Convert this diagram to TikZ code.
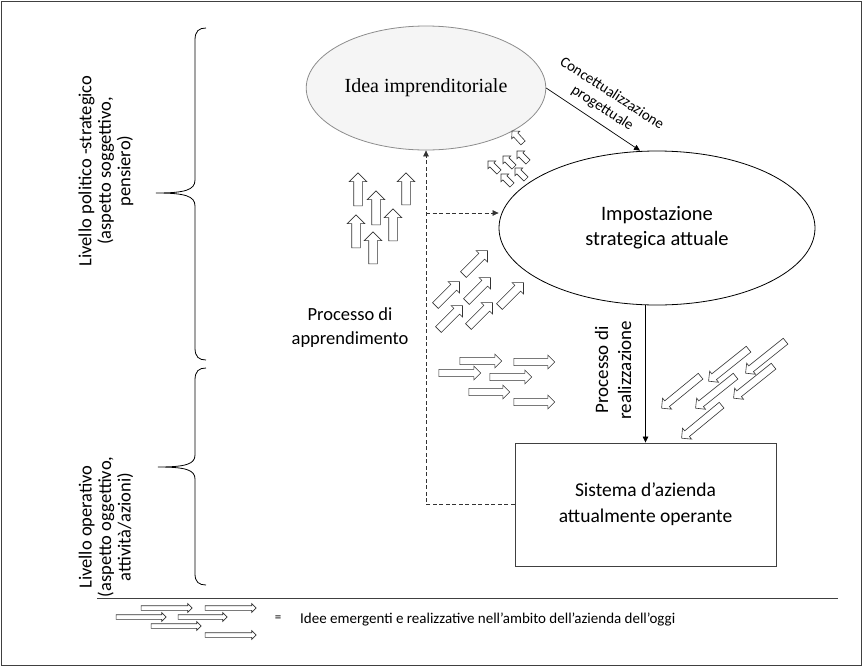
\documentclass[tikz,border=0pt]{standalone}
\usepackage{fontspec}
\setmainfont{Carlito}
\newfontfamily\serifidea{Liberation Serif}
\usetikzlibrary{shapes.geometric,shapes.arrows,arrows.meta,calc}

% block arrow from tail to tip: name, style, tail, tip
\newcommand\blockarrow[4]{%
  \path let \p1=($(#4)-(#3)$) in
    node[#2, rotate={atan2(\y1,\x1)}, minimum height={veclen(\x1,\y1)}]
      (#1) at ($(#3)!0.5!(#4)$) {};}

\tikzset{
  frame/.style={draw=black!75, line width=0.9pt},
  conn/.style={draw=black, line width=0.7pt, -{Triangle[length=6pt,width=5.5pt]}},
  dashconn/.style={draw=black!80, line width=0.7pt, dash pattern=on 4pt off 2.5pt,
    -{Triangle[length=6pt,width=5.5pt]}},
  bracestroke/.style={draw=black, line width=0.8pt},
  blk/.style 2 args={single arrow, draw=black!80, fill=white, line width=0.6pt,
    inner xsep=0pt, inner ysep=#1, single arrow head extend=#2, minimum width=0pt},
  uparr/.style={blk={4pt}{4.5pt}},
  nearr/.style={blk={3.8pt}{4pt}},
  rarr/.style={blk={3.3pt}{3.4pt}},
  swarr/.style={blk={3.4pt}{3.4pt}},
  tarr/.style={blk={2.6pt}{2.6pt}},
  legarr/.style={blk={2pt}{2.1pt}},
  sidelabel/.style={rotate=90, align=center, font=\fontsize{18.5}{19.5}\selectfont},
  bigtext/.style={align=center, font=\fontsize{20.5}{25}\selectfont},
}

\begin{document}
\begin{tikzpicture}[x=1pt,y=-1pt]
\useasboundingbox (0,0) rectangle (863,667);
\draw[frame] (1.5,1.5) rectangle (861.5,665.5);

% main elements
\node[ellipse, draw=black!45, fill=black!4, line width=0.8pt,
  minimum width=222pt, minimum height=124pt,
  font=\serifidea\fontsize{20}{24}\selectfont] (idea) at (426,88) {Idea imprenditoriale};
\node[ellipse, draw=black, line width=0.8pt, minimum width=316pt, minimum height=154pt,
  bigtext] (impost) at (657,228) {Impostazione\\strategica attuale};
\node[rectangle, draw=black!75, line width=0.9pt, minimum width=261pt, minimum height=123pt,
  bigtext, font=\fontsize{19.5}{26}\selectfont] (sist) at (645.5,504.5) {Sistema d’azienda\\attualmente operante};

% connectors
\draw[conn] (idea.east) -- ([xshift=-17pt]impost.north);
\node[rotate=-33, align=center, font=\fontsize{15}{17.5}\selectfont] (conc) at (607,101)
  {Concettualizzazione\\progettuale};
\draw[conn] (sist.north |- impost.south) -- (sist.north);
\node[rotate=90, bigtext, font=\fontsize{19}{23}\selectfont] (real) at (613,370)
  {Processo di\\realizzazione};

\coordinate (lc) at (426,504.5);
\coordinate (br) at (426,213);
\draw[dashconn] (sist.west) -- (lc) -- (idea.south);
\draw[dashconn] (br) -- (br -| impost.west);
\node[bigtext, font=\fontsize{18.5}{24}\selectfont] (appr) at (350,328) {Processo di\\apprendimento};

% level braces and labels
\draw[bracestroke] (206,28) .. controls (199,28) and (195,31) .. (195,40) -- (195,180)
  .. controls (195,190) and (185,193) .. (156,193)
  .. controls (185,193) and (195,196) .. (195,206) -- (195,348)
  .. controls (195,357) and (199,360) .. (206,360);
\draw[bracestroke] (206,368) .. controls (199,368) and (195,371) .. (195,380) -- (195,455)
  .. controls (195,464) and (186,467) .. (158,467)
  .. controls (186,467) and (195,470) .. (195,479) -- (195,574)
  .. controls (195,582) and (199,585) .. (206,585);
\node[sidelabel] (polit) at (106,171) {Livello politico -strategico\\(aspetto soggettivo,\\pensiero)};
\node[sidelabel] (oper) at (106,527) {Livello operativo\\(aspetto oggettivo,\\attività/azioni)};

% emerging ideas: upward group
\blockarrow{u1}{uparr}{358,208}{358,175}
\blockarrow{u2}{uparr}{406,207}{406,175}
\blockarrow{u3}{uparr}{376,227}{376,193}
\blockarrow{u4}{uparr}{393,243}{393,211}
\blockarrow{u5}{uparr}{356,250}{356,217}
\blockarrow{u6}{uparr}{373,266}{373,234}

% diagonal group
\blockarrow{d1}{nearr}{462,276}{486,252}
\blockarrow{d2}{nearr}{434,307}{458,283}
\blockarrow{d3}{nearr}{465,303}{489,279}
\blockarrow{d4}{nearr}{498,308}{522,284}
\blockarrow{d5}{nearr}{437,331}{461,307}
\blockarrow{d6}{nearr}{467,328}{491,304}

% horizontal group
\blockarrow{h1}{rarr}{458,361}{500,361}
\blockarrow{h2}{rarr}{512,362}{553,362}
\blockarrow{h3}{rarr}{437,373}{479,373}
\blockarrow{h4}{rarr}{488,377}{530,377}
\blockarrow{h5}{rarr}{467,392}{508,392}
\blockarrow{h6}{rarr}{512,402}{553,402}

% downward-left group
\blockarrow{s1}{swarr}{787,340}{747,372}
\blockarrow{s2}{swarr}{750,348}{710,380}
\blockarrow{s3}{swarr}{702,375}{663,407}
\blockarrow{s4}{swarr}{737,375}{697,407}
\blockarrow{s5}{swarr}{775,365}{735,397}
\blockarrow{s6}{swarr}{723,404}{683,437}

% small group near the idea
\blockarrow{t1}{tarr}{524,144}{513,132}
\blockarrow{t2}{tarr}{500,173}{489,162}
\blockarrow{t3}{tarr}{515,168}{504,157}
\blockarrow{t4}{tarr}{529,163}{518,152}
\blockarrow{t5}{tarr}{513,186}{502,175}
\blockarrow{t6}{tarr}{527,180}{516,169}

% legend
\draw[black!75, line width=0.9pt] (97,598) -- (838,598);
\blockarrow{l1}{legarr}{140,608}{191,608}
\blockarrow{l2}{legarr}{204,608}{255,608}
\blockarrow{l3}{legarr}{115,617}{165,617}
\blockarrow{l4}{legarr}{177,617}{226,617}
\blockarrow{l5}{legarr}{150,626}{200,626}
\blockarrow{l6}{legarr}{204,635}{255,635}
\node[font=\fontsize{13}{15}\selectfont] (eq) at (278,619) {=};
\node[anchor=west, inner sep=0pt, font=\fontsize{15}{17}\selectfont] (legtxt) at (300,619)
  {Idee emergenti e realizzative nell’ambito dell’azienda dell’oggi};
\end{tikzpicture}
\end{document}
